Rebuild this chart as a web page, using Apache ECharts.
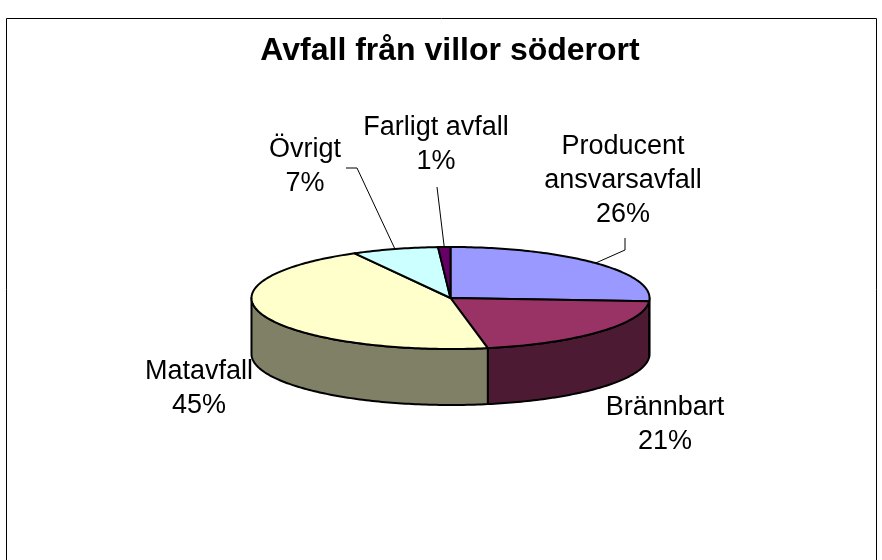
<!DOCTYPE html>
<html>
<head>
<meta charset="utf-8">
<script src="https://cdn.jsdelivr.net/npm/echarts@6/dist/echarts.min.js"></script>
<style>
  html, body { margin: 0; padding: 0; background: #fff; }
  #chart { width: 882px; height: 560px; }
</style>
</head>
<body>
<div id="chart"></div>
<script>
// Avfall från villor söderort, andel i procent
var categories = ['Producent\nansvarsavfall', 'Brännbart', 'Matavfall', 'Övrigt', 'Farligt avfall']
var shares = [26, 21, 45, 7, 1]
var topColors = ['#9999FF', '#993366', '#FFFFCC', '#CCFFFF', '#660066']
var sideColors = ['#4D4D80', '#4D1A33', '#808066', '#668080', '#330033']

// layout of the tilted pie (Excel 3D look)
var cx = 450.5
var cy = 298
var rx = 199
var ry = 51
var depth = 56
var fontFamily = "'Liberation Sans', Arial, sans-serif"

// label centres and leader line bends, moved by hand like in the original
var labelPos = [[623, 181], [665, 425], [199, 389], [305, 167], [436, 145]]
var leaderBends = [[[625, 250], [625, 238]], null, null, [[357, 168], [346, 168]], [[437, 187]]]

// start / end angle of each slice, clockwise from 12 o'clock
var total = shares.reduce(function (s, v) { return s + v }, 0)
var sliceData = []
var acc = 0
for (let i = 0; i < shares.length; i++) {
  let a = acc / total * 360
  acc += shares[i]
  let b = acc / total * 360
  sliceData.push({name: categories[i], value: [a, b, shares[i]]})
}

function pt (deg, dy) {
  let t = deg * Math.PI / 180
  return [cx + rx * Math.sin(t), cy - ry * Math.cos(t) + (dy || 0)]
}

function arcPoints (a, b, dy) {
  let pts = []
  let n = Math.max(2, Math.ceil(Math.abs(b - a)))
  for (let i = 0; i <= n; i++) {
    pts.push(pt(a + (b - a) * i / n, dy))
  }
  return pts
}

function renderSide (params, api) {
  let a = api.value(0)
  let b = api.value(1)
  let s = Math.max(a, 90)
  let e = Math.min(b, 270)
  if (s >= e) return null
  let pts = arcPoints(s, e, 0).concat(arcPoints(e, s, depth))
  return {
    type: 'polygon',
    shape: {points: pts},
    style: {fill: sideColors[params.dataIndex], stroke: '#000', lineWidth: 2, lineJoin: 'round'}
  }
}

function renderTop (params, api) {
  let i = params.dataIndex
  let a = api.value(0)
  let b = api.value(1)
  let pts = [[cx, cy]].concat(arcPoints(a, b, 0))
  let children = [{
    type: 'polygon',
    shape: {points: pts},
    style: {fill: topColors[i], stroke: '#000', lineWidth: 2, lineJoin: 'round'}
  }]
  if (leaderBends[i]) {
    let line = [pt((a + b) / 2, 0)].concat(leaderBends[i])
    children.push({
      type: 'polyline',
      shape: {points: line},
      style: {fill: null, stroke: '#000', lineWidth: 1}
    })
  }
  children.push({
    type: 'text',
    z2: 20,
    style: {
      text: categories[i] + '\n' + api.value(2) + '%',
      x: labelPos[i][0],
      y: labelPos[i][1],
      align: 'center',
      verticalAlign: 'middle',
      fill: '#000',
      font: '27px ' + fontFamily,
      lineHeight: 34
    }
  })
  return {type: 'group', children: children}
}

var myChart = echarts.init(document.getElementById('chart'))
var option = {
  backgroundColor: '#fff',
  animation: false,
  title: {
    text: 'Avfall från villor söderort',
    left: 445,
    textAlign: 'center',
    top: 30,
    textStyle: {fontFamily: fontFamily, fontSize: 32, fontWeight: 'bold', color: '#000'}
  },
  graphic: [{
    type: 'rect',
    shape: {x: 6.5, y: 18.5, width: 870, height: 600},
    style: {fill: null, stroke: '#000', lineWidth: 1}
  }],
  series: [
    {
      type: 'custom',
      coordinateSystem: 'none',
      z: 1,
      renderItem: renderSide,
      data: sliceData
    },
    {
      type: 'custom',
      coordinateSystem: 'none',
      z: 2,
      renderItem: renderTop,
      data: sliceData
    }
  ]
}
myChart.setOption(option)
</script>
</body>
</html>
